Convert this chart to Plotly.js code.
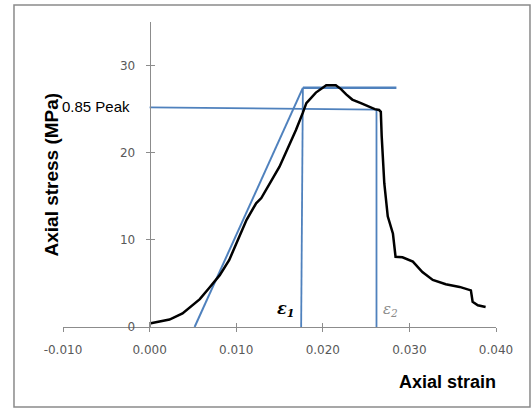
<!DOCTYPE html>
<html>
<head>
<meta charset="utf-8">
<script src="https://cdn.plot.ly/plotly-3.0.1.min.js"></script>
<style>
  html, body { margin: 0; padding: 0; background: #ffffff; }
  #chart { width: 532px; height: 410px; }
</style>
</head>
<body>
<div id="chart"></div>
<script>
// Measured stress-strain curve
var strain = [0.0000, 0.0023, 0.0038, 0.0058, 0.0069, 0.0081, 0.0092, 0.0104, 0.0112, 0.0123,
              0.0129, 0.0150, 0.0169, 0.0177, 0.0181, 0.0192, 0.0200, 0.0204, 0.0215, 0.0221,
              0.0227, 0.0234, 0.0244, 0.0254, 0.0260, 0.0265, 0.0267, 0.0268, 0.0269, 0.0271,
              0.0275, 0.0281, 0.0284, 0.0292, 0.0304, 0.0315, 0.0327, 0.0342, 0.0358, 0.0371,
              0.0373, 0.0379, 0.0388];
var stress = [0.4, 0.85, 1.55, 3.2, 4.5, 5.95, 7.7, 10.4, 12.3, 14.2,
              14.8, 18.4, 22.6, 24.6, 25.7, 26.9, 27.45, 27.75, 27.75, 27.3,
              26.7, 26.1, 25.7, 25.3, 25.0, 24.9, 24.7, 21.9, 20.3, 16.5,
              12.7, 10.7, 8.06, 8.0, 7.5, 6.3, 5.4, 4.9, 4.6, 4.2,
              2.9, 2.5, 2.3];

// Construction lines
var tangentStrain = [0.0052, 0.0177];
var tangentStress = [0, 27.45];
var peakStrain = [0.0177, 0.0285];
var peakStress = [27.45, 27.45];
var p85Strain = [0.0000, 0.0262];
var p85Stress = [25.2, 24.95];
var eps1Strain = [0.0175, 0.0177];
var eps1Stress = [0, 27.45];
var eps2Strain = [0.0262, 0.0262];
var eps2Stress = [0, 24.95];

// Axis ticks
var xTickVals = [-0.01, 0.0, 0.01, 0.02, 0.03, 0.04];
var xTickText = ["-0.010", "0.000", "0.010", "0.020", "0.030", "0.040"];
var yTickVals = [0, 10, 20, 30];
var yTickText = ["0", "10", "20", "30"];

var blue = '#4F81BD';
var axisGray = '#8c8c8c';
var labelGray = '#595959';

function blueLine(x, y, w) {
  return {x: x, y: y, type: 'scatter', mode: 'lines', showlegend: false,
          hoverinfo: 'skip', line: {color: blue, width: w}};
}

var traces = [
  blueLine(p85Strain, p85Stress, 1.6),
  blueLine(tangentStrain, tangentStress, 2),
  blueLine(peakStrain, peakStress, 2.5),
  blueLine(eps1Strain, eps1Stress, 1.8),
  blueLine(eps2Strain, eps2Stress, 1.8),
  {x: strain, y: stress, type: 'scatter', mode: 'lines', showlegend: false,
   line: {color: '#000000', width: 2.5}},
  {x: [], y: [], xaxis: 'x2', yaxis: 'y2', type: 'scatter', showlegend: false}
];

var tickFont = {family: 'DejaVu Sans', size: 12, color: labelGray};

var layout = {
  width: 532, height: 410,
  margin: {l: 63, r: 36, t: 22, b: 83, pad: 0},
  paper_bgcolor: '#ffffff', plot_bgcolor: '#ffffff',
  showlegend: false,
  xaxis: {
    range: [-0.01, 0.04], domain: [0, 1], anchor: 'y',
    tickvals: xTickVals, ticktext: xTickText,
    showline: true, linecolor: axisGray, linewidth: 1,
    ticks: 'outside', ticklen: 4, tickcolor: axisGray, tickwidth: 1,
    showgrid: false, zeroline: false, tickfont: tickFont,
    ticklabelstandoff: 8
  },
  xaxis2: {
    range: [-0.01, 0.04], overlaying: 'x', anchor: 'y',
    tickvals: xTickVals, showticklabels: false,
    ticks: 'inside', ticklen: 4, tickcolor: axisGray, tickwidth: 1,
    showline: false, showgrid: false, zeroline: false
  },
  yaxis: {
    range: [0, 35], anchor: 'free', position: 0.2,
    tickvals: yTickVals, ticktext: yTickText,
    showline: true, linecolor: axisGray, linewidth: 1,
    ticks: 'outside', ticklen: 4, tickcolor: axisGray, tickwidth: 1,
    showgrid: false, zeroline: false, tickfont: tickFont,
    ticklabelstandoff: 8
  },
  yaxis2: {
    range: [0, 35], overlaying: 'y', anchor: 'free', position: 0.2,
    tickvals: [10, 20, 30], showticklabels: false,
    ticks: 'inside', ticklen: 4, tickcolor: axisGray, tickwidth: 1,
    showline: false, showgrid: false, zeroline: false
  },
  shapes: [{
    type: 'rect', xref: 'paper', yref: 'paper',
    x0: -0.1132, x1: 1.0785, y0: -0.2623, y1: 1.0557,
    line: {color: '#8a8a8a', width: 1.5}, fillcolor: 'rgba(0,0,0,0)', layer: 'below'
  }],
  annotations: [
    {text: '<b>Axial stress (MPa)</b>', xref: 'paper', yref: 'paper',
     x: -0.0277, y: 0.5, xanchor: 'center', yanchor: 'middle', textangle: -90,
     showarrow: false, font: {family: 'Liberation Sans', size: 19, color: '#000000'}},
    {text: '<b>Axial strain</b>', xref: 'paper', yref: 'paper',
     x: 0.889, y: -0.18, xanchor: 'center', yanchor: 'middle',
     showarrow: false, font: {family: 'Liberation Sans', size: 18, color: '#000000'}},
    {text: '0.85 Peak', xref: 'x', yref: 'y', x: -0.0020, y: 25.3,
     xanchor: 'right', yanchor: 'middle', showarrow: false,
     font: {family: 'Liberation Sans', size: 15, color: '#000000'}},
    {text: '<b><i>ε<sub>1</sub></i></b>', xref: 'x', yref: 'y', x: 0.0157, y: 2.0,
     xanchor: 'center', yanchor: 'middle', showarrow: false,
     font: {family: 'DejaVu Serif', size: 16, color: '#000000'}},
    {text: '<i>ε<sub>2</sub></i>', xref: 'x', yref: 'y', x: 0.0278, y: 2.0,
     xanchor: 'center', yanchor: 'middle', showarrow: false,
     font: {family: 'DejaVu Serif', size: 15, color: '#8a8a8a'}}
  ]
};

Plotly.newPlot('chart', traces, layout, {displayModeBar: false, staticPlot: true});
</script>
</body>
</html>
